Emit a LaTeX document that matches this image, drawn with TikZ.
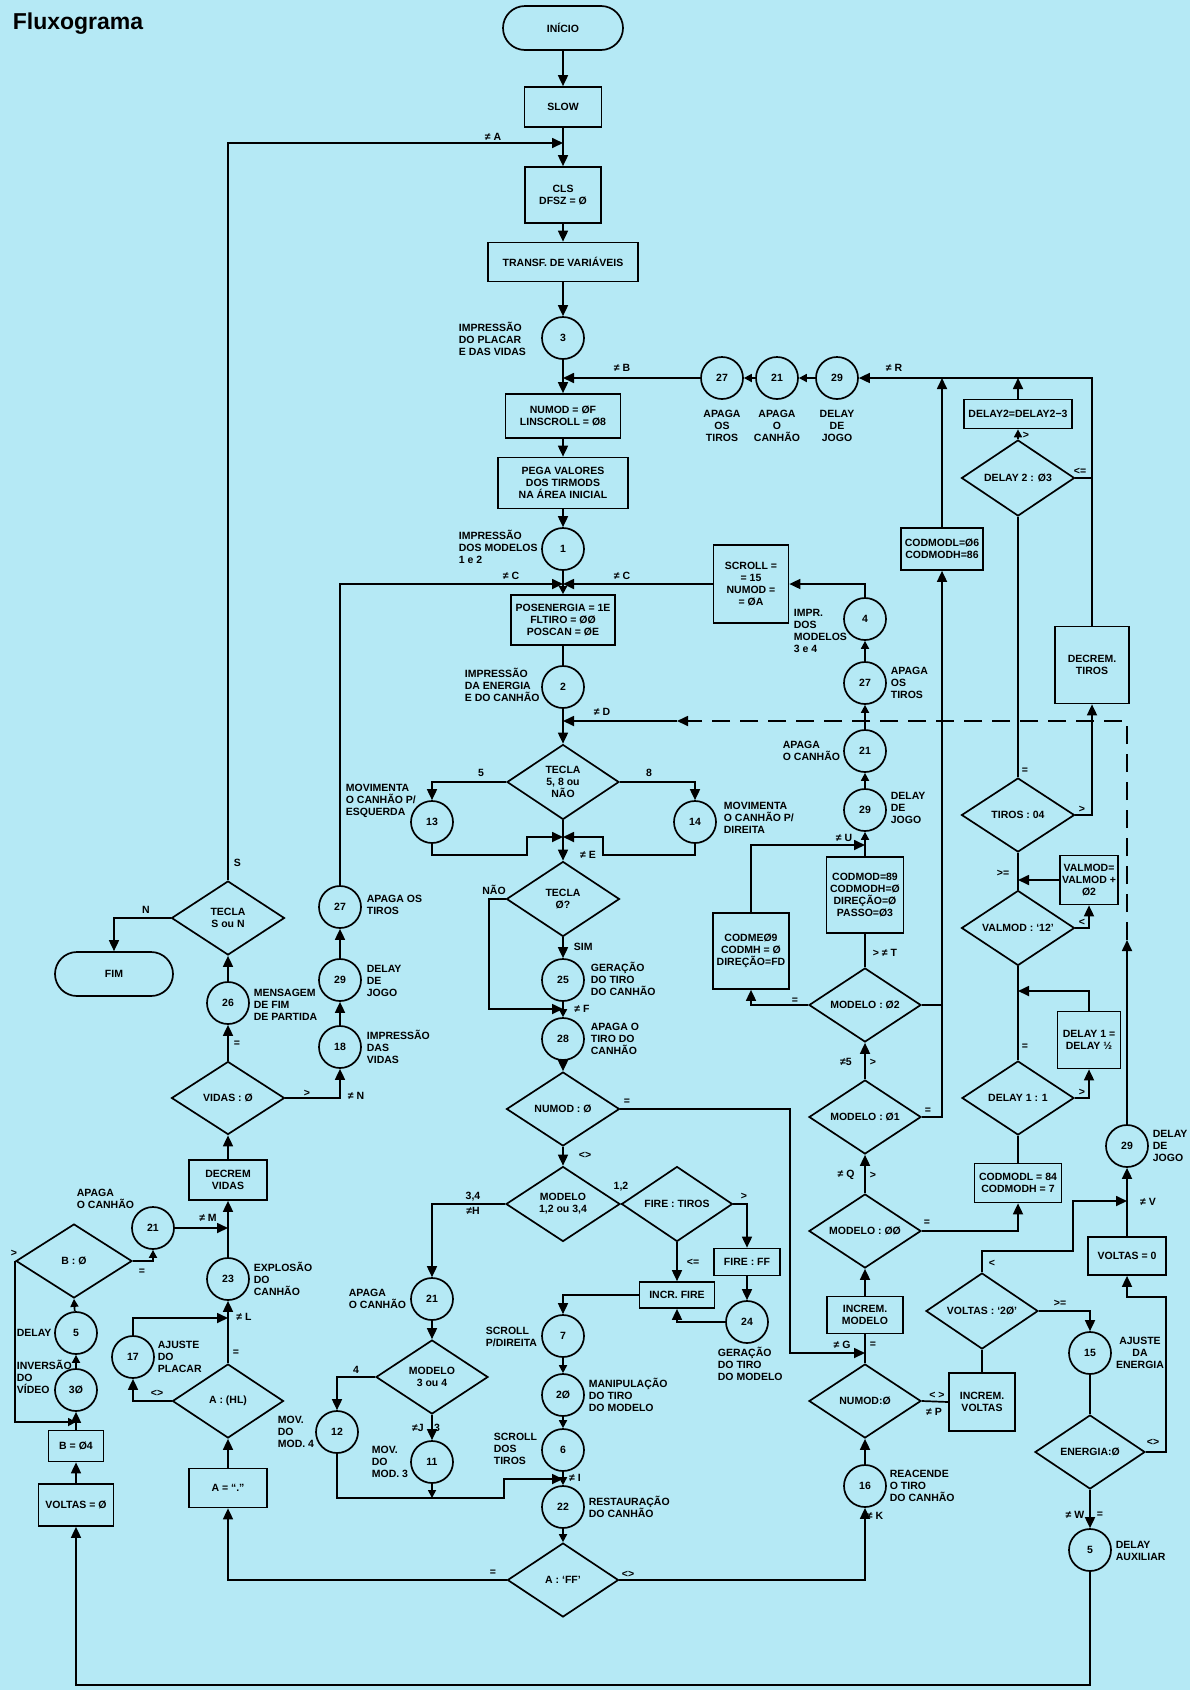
\documentclass[tikz,border=0pt]{standalone}
\usepackage{fontspec}
\setmainfont{Liberation Sans}
\usetikzlibrary{arrows.meta,shapes.geometric}
\definecolor{bgc}{RGB}{181,233,245}
\newcommand{\myf}{\fontsize{10.5}{12}\selectfont\bfseries}
\begin{document}
\begin{tikzpicture}[x=1pt,y=-1pt, line width=1.7pt,
 box/.style={draw, rectangle, align=center, font=\myf, inner sep=1pt},
 term/.style={draw, rectangle, rounded corners=22pt, minimum width=120pt, minimum height=44pt, font=\myf},
 circ/.style={draw, circle, minimum size=42pt, inner sep=0pt, font=\myf},
 dia/.style={draw, diamond, inner sep=0pt},
 dt/.style={align=center, font=\myf, inner sep=0pt},
 ann/.style={align=left, font=\myf, inner sep=0pt},
 lb/.style={font=\myf, inner sep=0pt},
 arr/.style={-{Triangle[length=11pt,width=10pt]}},
 sarr/.style={-{Triangle[length=8pt,width=8pt]}},
 dsh/.style={dash pattern=on 18pt off 10pt},
]
\fill[bgc] (0,0) rectangle (1190,1690);
\useasboundingbox (0,0) rectangle (1190,1690);

\node[anchor=west, inner sep=0pt, font=\fontsize{23}{26}\selectfont\bfseries] (title) at (12,24) {Fluxograma};

% ---------- main column ----------
\node[term] (inicio) at (563,28) {INÍCIO};
\node[box, minimum width=77pt, minimum height=40pt] (slow) at (563,107) {SLOW};
\coordinate (jA) at (563,143);
\node[box, minimum width=76pt, minimum height=56pt] (cls) at (563,195) {CLS\\DFSZ = Ø};
\node[box, minimum width=150pt, minimum height=39pt] (transf) at (563,262) {TRANSF. DE VARIÁVEIS};
\node[circ] (c3) at (563,338) {3};
\coordinate (jB) at (563,378);
\node[box, minimum width=115pt, minimum height=44pt] (numod) at (563,416) {NUMOD = ØF\\LINSCROLL = Ø8};
\node[box, minimum width=130pt, minimum height=51pt] (pega) at (563,483) {PEGA VALORES\\DOS TIRMODS\\NA ÁREA INICIAL};
\node[circ] (c1) at (563,549) {1};
\coordinate (jC) at (563,584);
\node[box, minimum width=104pt, minimum height=50pt] (posen) at (563,620) {POSENERGIA = 1E\\FLTIRO = ØØ\\POSCAN = ØE};
\node[circ] (c2) at (563,687) {2};
\coordinate (jD) at (563,721);
\node[dia, minimum width=112pt, minimum height=75pt, label={[dt]center:{TECLA\\5, 8 ou\\NÃO}}] (tecla) at (563,782) {};
\node[circ] (c13) at (432,822) {13};
\node[circ] (c14) at (695,822) {14};
\coordinate (jE) at (563,837);
\node[dia, minimum width=113pt, minimum height=75pt, label={[dt]center:{TECLA\\Ø?}}] (teclaz) at (563,899) {};
\node[circ] (c25) at (563,980) {25};
\coordinate (jF) at (563,1009);
\node[circ] (c28) at (563,1039) {28};
\node[dia, minimum width=113pt, minimum height=74pt, label={[dt]center:{NUMOD : Ø}}] (numodz) at (563,1109) {};
\node[dia, minimum width=114pt, minimum height=75pt, label={[dt]center:{MODELO\\1,2 ou 3,4}}] (modelo) at (563,1204) {};
\node[dia, minimum width=111pt, minimum height=75pt, label={[dt]center:{FIRE : TIROS}}] (fire) at (677,1204) {};
\node[box, minimum width=66pt, minimum height=27pt] (fireff) at (747,1262) {FIRE : FF};
\node[circ] (c24) at (747,1322) {24};
\node[box, minimum width=75pt, minimum height=26pt] (incrfire) at (677,1295) {INCR. FIRE};
\node[circ] (c7) at (563,1336) {7};
\node[circ] (c20) at (563,1395) {2Ø};
\node[circ] (c6) at (563,1450) {6};
\coordinate (jI) at (563,1479);
\node[circ] (c22) at (563,1507) {22};
\node[dia, minimum width=111pt, minimum height=74pt, label={[dt]center:{A : ‘FF’}}] (aff) at (563,1580) {};

% ---------- middle-left ----------
\node[circ] (c21m) at (432,1299) {21};
\node[dia, minimum width=112pt, minimum height=74pt, label={[dt]center:{MODELO\\3 ou 4}}] (mod34) at (432,1377) {};
\node[circ] (c12) at (337,1432) {12};
\node[circ] (c11) at (432,1462) {11};
\coordinate (j11) at (432,1498);
\coordinate (jIw) at (504,1498);

% ---------- left ----------
\node[dia, minimum width=113pt, minimum height=74pt, label={[dt]center:{TECLA\\S ou N}}] (sn) at (228,918) {};
\node[term, minimum width=118pt] (fim) at (114,974) {FIM};
\node[circ] (c26) at (228,1003) {26};
\node[dia, minimum width=113pt, minimum height=73pt, label={[dt]center:{VIDAS : Ø}}] (vidas) at (228,1098) {};
\node[box, minimum width=78pt, minimum height=40pt] (decvid) at (228,1180) {DECREM\\VIDAS};
\coordinate (jM) at (228,1228);
\node[circ] (c23) at (228,1279) {23};
\coordinate (jL) at (228,1318);
\node[dia, minimum width=111pt, minimum height=74pt, label={[dt]center:{A : (HL)}}] (ahl) at (228,1401) {};
\node[box, minimum width=78pt, minimum height=39pt] (adot) at (228,1488) {A = “.”};
\node[circ] (c27l) at (340,907) {27};
\node[circ] (c29l) at (340,980) {29};
\node[circ] (c18) at (340,1047) {18};
\node[circ] (c21l) at (153,1228) {21};
\node[dia, minimum width=116pt, minimum height=74pt, label={[dt]center:{B : Ø}}] (bdia) at (74,1261) {};
\node[circ] (c5l) at (76,1333) {5};
\node[circ] (c30) at (76,1390) {3Ø};
\coordinate (j30) at (76,1422);
\node[box, minimum width=55pt, minimum height=31pt] (b04) at (76,1446) {B = Ø4};
\node[box, minimum width=75pt, minimum height=42pt] (voltasz) at (76,1505) {VOLTAS = Ø};
\node[circ] (c17) at (133,1357) {17};
\coordinate (bl) at (76,1685);

% ---------- right ----------
\node[circ] (c27r) at (722,378) {27};
\node[circ] (c21r) at (777,378) {21};
\node[circ] (c29r) at (837,378) {29};
\coordinate (jR1) at (942,378);
\coordinate (jR2) at (1018,378);
\node[box, minimum width=108pt, minimum height=29pt, inner sep=0pt] (d2box) at (1018,414) {DELAY2=DELAY2−3};
\node[dia, minimum width=113pt, minimum height=76pt, label={[dt]center:{DELAY 2 : Ø3}}] (d2) at (1018,478) {};
\coordinate (jd2) at (1092,478);
\node[box, minimum width=82pt, minimum height=42pt, inner sep=0pt] (cm6) at (942,549) {CODMODL=Ø6\\CODMODH=86};
\node[box, minimum width=74pt, minimum height=77pt] (dectiros) at (1092,665) {DECREM.\\TIROS};
\node[box, minimum width=75pt, minimum height=78pt] (scroll) at (751,584) {SCROLL =\\= 15\\NUMOD =\\= ØA};
\node[circ] (c4) at (865,619) {4};
\node[circ] (c27b) at (865,683) {27};
\node[circ] (c21b) at (865,751) {21};
\node[circ] (c29b) at (865,810) {29};
\coordinate (jU) at (865,845);
\node[box, minimum width=77pt, minimum height=76pt, inner sep=0pt] (cm89) at (865,895) {CODMOD=89\\CODMODH=Ø\\DIREÇÃO=Ø\\PASSO=Ø3};
\node[box, minimum width=76pt, minimum height=76pt, inner sep=0pt] (cm09) at (751,951) {CODMEØ9\\CODMH = Ø\\DIREÇÃO=FD};
\node[dia, minimum width=112pt, minimum height=74pt, label={[dt]center:{MODELO : Ø2}}] (m02) at (865,1005) {};
\node[dia, minimum width=112pt, minimum height=74pt, label={[dt]center:{MODELO : Ø1}}] (m01) at (865,1117) {};
\node[dia, minimum width=112pt, minimum height=74pt, label={[dt]center:{MODELO : ØØ}}] (m00) at (865,1231) {};
\node[dia, minimum width=113pt, minimum height=74pt, label={[dt]center:{TIROS : 04}}] (tiros) at (1018,815) {};
\node[box, minimum width=58pt, minimum height=49pt, inner sep=0pt] (vmbox) at (1089,880) {VALMOD=\\VALMOD +\\Ø2};
\node[dia, minimum width=113pt, minimum height=75pt, label={[dt]center:{VALMOD : ‘12’}}] (vm) at (1018,928) {};
\node[box, minimum width=63pt, minimum height=57pt] (d1box) at (1089,1040) {DELAY 1 =\\DELAY ½};
\coordinate (jd1) at (1018,991);
\node[dia, minimum width=112pt, minimum height=74pt, label={[dt]center:{DELAY 1 : 1}}] (d1) at (1018,1098) {};
\node[box, minimum width=87pt, minimum height=39pt, inner sep=0pt] (cm84) at (1018,1183) {CODMODL = 84\\CODMODH = 7};
\node[circ] (c29c) at (1127,1146) {29};
\coordinate (jV) at (1127,1201);
\coordinate (jV2) at (1073,1251);
\coordinate (dv) at (1127,940);
\coordinate (dh) at (677,721);
\node[box, minimum width=78pt, minimum height=38pt] (v0) at (1127,1256) {VOLTAS = 0};
\node[dia, minimum width=112pt, minimum height=76pt, label={[dt]center:{VOLTAS : ‘2Ø’}}] (v2) at (982,1311) {};
\node[circ] (c15) at (1090,1353) {15};
\node[dia, minimum width=110pt, minimum height=74pt, label={[dt]center:{ENERGIA:Ø}}] (en) at (1090,1452) {};
\node[circ] (c5a) at (1090,1550) {5};
\node[box, minimum width=66pt, minimum height=58pt] (incv) at (982,1402) {INCREM.\\VOLTAS};
\node[box, minimum width=76pt, minimum height=37pt] (incm) at (865,1315) {INCREM.\\MODELO};
\coordinate (jG) at (865,1353);
\node[dia, minimum width=112pt, minimum height=74pt, label={[dt]center:{NUMOD:Ø}}] (nb) at (865,1401) {};
\node[circ] (c16) at (865,1486) {16};

% ---------- connectors ----------
\draw[arr] (inicio) -- (slow);
\draw[arr] (slow) -- (cls);
\draw[arr] (sn.north) |- (jA);
\draw[arr] (cls) -- (transf);
\draw[arr] (transf) -- (c3);
\draw[arr] (c3) -- (numod);
\draw[arr] (c27r) -- (jB);
\draw[sarr] (c29r) -- (c21r);
\draw[sarr] (c21r) -- (c27r);
\draw[arr] (numod) -- (pega);
\draw[arr] (pega) -- (c1);
\draw[sarr] (c1) -- (posen);
\draw (posen) -- (c2);
\draw[arr] (c2) -- (tecla);
\draw[arr] (tecla.west) -| (c13.north);
\draw[arr] (tecla.east) -| (c14.north);
\draw[arr] (c13.south) |- (527,855) |- (jE);
\draw[arr] (c14.south) |- (603,855) |- (jE);
\draw[arr] (tecla.south) -- (teclaz.north);
\draw[arr] (teclaz.west) -| (489,1009) -- (jF);
\draw[arr] (teclaz) -- (c25);
\draw[sarr] (c25) -- (c28);
\draw[arr] (c28) -- (numodz);
\draw[arr] (numodz) -- (modelo);
\draw[arr] (modelo.west) -| (c21m.north);
\draw (modelo.east) -- (fire.west);
\draw[arr] (fire.east) -| (fireff.north);
\draw[arr] (fire.south) -- (incrfire.north);
\draw[arr] (fireff) -- (c24);
\draw[arr] (c24.west) -| (incrfire.south);
\draw[arr] (incrfire.west) -| (c7.north);
\draw[sarr] (c7) -- (c20);
\draw[sarr] (c20) -- (c6);
\draw[sarr] (c6) -- (c22);
\draw[sarr] (c22) -- (aff);
\draw[arr] (c21m) -- (mod34);
\draw[arr] (mod34.west) -| (c12.north);
\draw[arr] (mod34) -- (c11);
\draw[sarr] (c11.south) -- (j11);
\draw[arr] (c12.south) |- (jIw) |- (jI);
\draw[arr] (aff.west) -| (adot.south);
\draw[arr] (adot) -- (ahl);
\draw[arr] (ahl) -- (c23);
\draw[arr] (ahl.west) -| (c17.south);
\draw[arr] (c17.north) |- (jL);
\draw[arr] (c23) -- (decvid);
\draw[arr] (c21l) -- (jM);
\draw[arr] (decvid) -- (vidas);
\draw[arr] (vidas) -- (c26);
\draw[arr] (c26) -- (sn);
\draw[arr] (sn.west) -| (fim.north);
\draw[arr] (vidas.east) -| (c18.south);
\draw[arr] (c18) -- (c29l);
\draw[arr] (c29l) -- (c27l);
\draw[arr] (c27l.north) |- (jC);
\draw[arr] (scroll.west) -- (jC);
\draw[arr] (c4.north) |- (scroll.east);
\draw[sarr] (c29b) -- (c21b);
\draw[sarr] (c21b) -- (c27b);
\draw[sarr] (c27b) -- (c4);
\draw[arr] (cm09.north) |- (jU);
\draw[sarr] (cm89.north) -- (c29b.south);
\draw (m02.north) -- (cm89.south);
\draw[arr] (m02.west) -| (cm09.south);
\draw (m02.east) -- (m02.east -| cm6.south);
\draw[arr] (m01.east) -| (cm6.south);
\draw[arr] (m01.north) -- (m02.south);
\draw[arr] (m00.north) -- (m01.south);
\draw[arr] (cm6.north) -- (jR1);
\draw[arr] (d2box.north) -- (jR2);
\draw[arr] (dectiros.north) |- (c29r.east);
\draw[sarr] (d2.north) -- (d2box.south);
\draw (d2.east) -- (jd2);
\draw (tiros.north) -- (d2.south);
\draw[arr] (tiros.east) -| (dectiros.south);
\draw (vm.north) -- (tiros.south);
\draw[arr] (vm.east) -| (vmbox.south);
\draw[arr] (vmbox.west) -- (vmbox.west -| vm.north);
\draw (d1.north) -- (vm.south);
\draw[arr] (d1box.north) |- (jd1);
\draw[arr] (d1.east) -| (d1box.south);
\draw (cm84.north) -- (d1.south);
\draw[arr] (m00.east) -| (cm84.south);
\draw[arr] (incm.north) -- (m00.south);
\draw (nb.north) -- (incm.south);
\draw[arr] (numodz.east) -| (790,1353) -- (jG);
\draw[arr] (c16) -- (nb.south);
\draw[arr] (aff.east) -| (c16.south);
\draw (nb.east) -- (incv.west);
\draw (incv.north) -- (v2.south);
\draw[arr] (v2.north) |- (jV2) |- (jV);
\draw[arr] (v0.north) -- (c29c.south);
\draw[arr] (c29c.north) -- (dv);
\draw[arr, dsh] (dv) |- (dh);
\draw[arr] (dh) -- (jD);
\draw[arr] (v2.east) -| (c15.north);
\draw (c15) -- (en);
\draw[arr] (en.east) -| (1166,1297) -| (v0.south);
\draw[arr] (en.south) -- (c5a.north);
\draw[arr] (c5a.south) |- (bl) -- (voltasz.south);
\draw[arr] (voltasz) -- (b04);
\draw[arr] (b04) -- (c30);
\draw[sarr] (c30) -- (c5l);
\draw[sarr] (c5l) -- (bdia.south);
\draw[sarr] (bdia.west) |- (j30);
\draw[sarr] (bdia.east) -| (c21l.south);

% ---------- annotations ----------
\node[ann, anchor=west] (l3) at (458,339) {IMPRESSÃO\\DO PLACAR\\E DAS VIDAS};
\node[dt] (l27r) at (722,426) {APAGA\\OS\\TIROS};
\node[dt] (l21r) at (777,426) {APAGA\\O\\CANHÃO};
\node[dt] (l29r) at (837,426) {DELAY\\DE\\JOGO};
\node[ann, anchor=west] (l1) at (458,547) {IMPRESSÃO\\DOS MODELOS\\1 e 2};
\node[ann, anchor=west] (l2) at (464,685) {IMPRESSÃO\\DA ENERGIA\\E DO CANHÃO};
\node[ann, anchor=west] (l13) at (345,801) {MOVIMENTA\\O CANHÃO P/\\ESQUERDA};
\node[ann, anchor=west] (l14) at (723,818) {MOVIMENTA\\O CANHÃO P/\\DIREITA};
\node[ann, anchor=west] (l4) at (793,631) {IMPR.\\DOS\\MODELOS\\3 e 4};
\node[ann, anchor=west] (l27b) at (890,683) {APAGA\\OS\\TIROS};
\node[ann, anchor=west] (l21b) at (782,751) {APAGA\\O CANHÃO};
\node[ann, anchor=west] (l29b) at (890,808) {DELAY\\DE\\JOGO};
\node[lb] (lnao) at (494,890) {NÃO};
\node[lb, anchor=west] (lsim) at (573,947) {SIM};
\node[ann, anchor=west] (l25) at (590,979) {GERAÇÃO\\DO TIRO\\DO CANHÃO};
\node[ann, anchor=west] (l28) at (590,1039) {APAGA O\\TIRO DO\\CANHÃO};
\node[lb] (lF) at (582,1009) {≠ F};
\node[lb] (lE) at (588,855) {≠ E};
\node[lb] (leq1) at (627,1102) {=};
\node[lb] (lne1) at (585,1155) {<>};
\node[lb] (l34) at (473,1197) {3,4};
\node[lb] (lH) at (473,1211) {≠H};
\node[lb] (l12) at (621,1187) {1,2};
\node[lb] (lgt1) at (744,1196) {>};
\node[lb] (lle1) at (693,1262) {<=};
\node[ann, anchor=west] (l24) at (717,1364) {GERAÇÃO\\DO TIRO\\DO MODELO};
\node[ann, anchor=west] (l7) at (485,1337) {SCROLL\\P/DIREITA};
\node[ann, anchor=west] (l20) at (588,1395) {MANIPULAÇÃO\\DO TIRO\\DO MODELO};
\node[ann, anchor=west] (l6) at (493,1449) {SCROLL\\DOS\\TIROS};
\node[lb] (lI) at (575,1478) {≠ I};
\node[ann, anchor=west] (l22) at (588,1507) {RESTAURAÇÃO\\DO CANHÃO};
\node[lb] (leq2) at (493,1573) {=};
\node[lb] (lne2) at (628,1574) {<>};
\node[ann, anchor=west] (l21m) at (348,1299) {APAGA\\O CANHÃO};
\node[lb] (l4b) at (356,1370) {4};
\node[lb] (lJ) at (418,1428) {≠J};
\node[lb] (l3b) at (437,1428) {3};
\node[ann, anchor=west] (l11) at (371,1462) {MOV.\\DO\\MOD. 3};
\node[ann, anchor=west] (l12b) at (277,1432) {MOV.\\DO\\MOD. 4};
\node[ann, anchor=west] (l17) at (157,1357) {AJUSTE\\DO\\PLACAR};
\node[lb] (lne3) at (157,1393) {<>};
\node[lb] (leq3) at (236,1353) {=};
\node[lb] (lL) at (244,1317) {≠ L};
\node[ann, anchor=west] (l23) at (253,1279) {EXPLOSÃO\\DO\\CANHÃO};
\node[ann, anchor=west] (l21l) at (76,1199) {APAGA\\O CANHÃO};
\node[lb] (lM) at (208,1218) {≠ M};
\node[lb] (leq4) at (142,1272) {=};
\node[lb] (lgt2) at (14,1253) {>};
\node[lb, anchor=west] (l5l) at (16,1333) {DELAY};
\node[ann, anchor=west] (l30) at (16,1377) {INVERSÃO\\DO\\VÍDEO};
\node[ann, anchor=west] (l26) at (253,1005) {MENSAGEM\\DE FIM\\DE PARTIDA};
\node[lb] (leq5) at (237,1044) {=};
\node[lb] (lgt3) at (307,1093) {>};
\node[lb] (lN2) at (356,1096) {≠ N};
\node[ann, anchor=west] (l18) at (366,1047) {IMPRESSÃO\\DAS\\VIDAS};
\node[ann, anchor=west] (l29l) at (366,981) {DELAY\\DE\\JOGO};
\node[ann, anchor=west] (l27l) at (366,905) {APAGA OS\\TIROS};
\node[lb] (lN) at (146,910) {N};
\node[lb, anchor=west] (lS) at (233,863) {S};
\node[lb] (lA) at (493,137) {≠ A};
\node[lb] (lB) at (622,368) {≠ B};
\node[lb] (lR) at (894,368) {≠ R};
\node[lb] (lC1) at (511,576) {≠ C};
\node[lb] (lC2) at (622,576) {≠ C};
\node[lb] (lD) at (602,712) {≠ D};
\node[lb] (l5) at (481,773) {5};
\node[lb] (l8) at (649,773) {8};
\node[lb] (lgt4) at (1026,435) {>};
\node[lb] (lle2) at (1080,471) {<=};
\node[lb] (leq6) at (1025,771) {=};
\node[lb] (lgt5) at (1082,809) {>};
\node[lb] (lU) at (844,838) {≠ U};
\node[lb] (lT) at (885,953) {> ≠ T};
\node[lb] (leq7) at (795,1001) {=};
\node[lb] (l5b) at (846,1062) {≠5};
\node[lb] (lgt6) at (873,1062) {>};
\node[lb] (leq8) at (928,1111) {=};
\node[lb] (lQ) at (846,1175) {≠ Q};
\node[lb] (lgt7) at (873,1175) {>};
\node[lb] (leq9) at (927,1223) {=};
\node[lb] (lge1) at (1003,873) {>=};
\node[lb] (llt1) at (1082,922) {<};
\node[lb] (leq10) at (1025,1047) {=};
\node[lb] (lgt8) at (1082,1092) {>};
\node[ann, anchor=west] (l29c) at (1152,1146) {DELAY\\DE\\JOGO};
\node[lb] (lV) at (1148,1202) {≠ V};
\node[lb] (llt2) at (992,1263) {<};
\node[lb] (lge2) at (1060,1303) {>=};
\node[dt] (l15) at (1140,1353) {AJUSTE\\DA\\ENERGIA};
\node[lb] (lne4) at (1153,1442) {<>};
\node[lb] (lW) at (1075,1515) {≠ W};
\node[lb] (leq11) at (1100,1515) {=};
\node[ann, anchor=west] (l5a) at (1115,1551) {DELAY\\AUXILIAR};
\node[lb] (lG) at (842,1345) {≠ G};
\node[lb] (leq12) at (873,1345) {=};
\node[lb] (lne5) at (937,1395) {< >};
\node[lb] (lP) at (934,1412) {≠ P};
\node[ann, anchor=west] (l16) at (889,1486) {REACENDE\\O TIRO\\DO CANHÃO};
\node[lb] (lK) at (875,1516) {≠ K};
\end{tikzpicture}
\end{document}
